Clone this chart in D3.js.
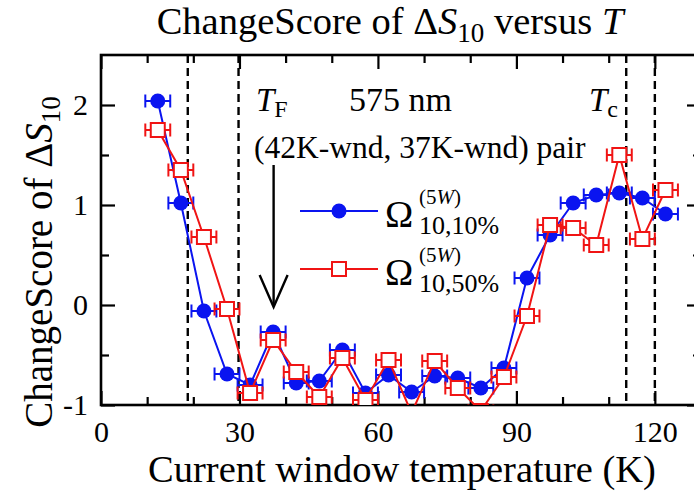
<!DOCTYPE html>
<html>
<head>
<meta charset="utf-8">
<script src="https://cdn.jsdelivr.net/npm/d3@7"></script>
<style>
  html, body { margin: 0; padding: 0; background: #fff; }
  svg { display: block; font-family: "Liberation Serif", "Times New Roman", serif; }
</style>
</head>
<body>
<svg id="chart" width="694" height="500"></svg>
<script>
// Window-centre temperatures (K)
const temps = [12.3, 17.3, 22.3, 27.3, 32.3, 37.3, 42.3, 47.3, 52.3, 57.3, 62.3, 67.3,
               72.3, 77.3, 82.3, 87.3, 92.3, 97.3, 102.3, 107.3, 112.3, 117.3, 122.3];
// ChangeScore of ΔS10, Ω(5W) 10,10%
const omega10 = [2.04, 1.02, -0.06, -0.69, -0.80, -0.27, -0.78, -0.76, -0.45, -0.88, -0.70, -0.87,
                 -0.71, -0.73, -0.83, -0.63, 0.27, 0.70, 1.02, 1.10, 1.12, 1.07, 0.91];
// ChangeScore of ΔS10, Ω(5W) 10,50%
const omega50 = [1.75, 1.35, 0.68, -0.04, -0.88, -0.35, -0.67, -0.92, -0.53, -0.95, -0.55, -1.08,
                 -0.56, -0.83, -1.06, -0.72, -0.11, 0.80, 0.77, 0.60, 1.50, 0.66, 1.15];
// half width of each temperature window (K)
const windowHalf = 2.7;
// reference temperatures marked with dashed lines (K)
const markerTemps = [18.8, 29.8, 113.8, 120];
const xMajorTicks = [0, 30, 60, 90, 120];
const xMinorTicks = [10, 20, 40, 50, 70, 80, 100, 110];
const yMajorTicks = [-1, 0, 1, 2];
const yMinorTicks = [-0.5, 0.5, 1.5];
const arrowTemp = 37.4;

const svg = d3.select("#chart");
const m = { left: 101, top: 55, right: 701, bottom: 405 };
const x = d3.scaleLinear().domain([0, 130]).range([m.left, m.right]);
const y = d3.scaleLinear().domain([-1, 2.5]).range([m.bottom, m.top]);

const BLUE = "#0a14f0", RED = "#f01414";

// title
const title = svg.append("text").attr("x", 390).attr("y", 34)
  .attr("text-anchor", "middle").attr("font-size", 38.5);
title.append("tspan").text("ChangeScore of Δ");
title.append("tspan").attr("font-style", "italic").text("S");
title.append("tspan").attr("font-size", 27).attr("dy", 8).text("10");
title.append("tspan").attr("dy", -8).text(" versus ");
title.append("tspan").attr("font-style", "italic").text("T");

// clip for data
svg.append("clipPath").attr("id", "plotclip").append("rect")
  .attr("x", m.left).attr("y", m.top).attr("width", m.right - m.left).attr("height", m.bottom - m.top);

// dashed reference lines
svg.append("g").selectAll("line").data(markerTemps).join("line")
  .attr("x1", d => x(d)).attr("x2", d => x(d))
  .attr("y1", m.top).attr("y2", m.bottom)
  .attr("stroke", "#000").attr("stroke-width", 2.4).attr("stroke-dasharray", "8,5");

// axes (ticks pointing inward)
function styleAxis(g) {
  g.select(".domain").remove();
  g.selectAll(".tick line").attr("stroke", "#000").attr("stroke-width", 2.2);
  g.selectAll(".tick text").attr("font-family", "Liberation Serif").attr("font-size", 30).attr("fill", "#000");
}
svg.append("g").attr("transform", `translate(0,${m.bottom})`)
  .call(d3.axisBottom(x).tickValues(xMajorTicks).tickSizeInner(-14).tickSizeOuter(0).tickPadding(16).tickFormat(d3.format("d")))
  .call(styleAxis);
svg.append("g").attr("transform", `translate(0,${m.bottom})`)
  .call(d3.axisBottom(x).tickValues(xMinorTicks).tickSizeInner(-8).tickSizeOuter(0).tickFormat(""))
  .call(styleAxis);
svg.append("g").attr("transform", `translate(0,${m.top})`)
  .call(d3.axisTop(x).tickValues(xMajorTicks).tickSizeInner(-14).tickSizeOuter(0).tickFormat(""))
  .call(styleAxis);
svg.append("g").attr("transform", `translate(0,${m.top})`)
  .call(d3.axisTop(x).tickValues(xMinorTicks).tickSizeInner(-8).tickSizeOuter(0).tickFormat(""))
  .call(styleAxis);
svg.append("g").attr("transform", `translate(${m.left},0)`)
  .call(d3.axisLeft(y).tickValues(yMajorTicks).tickSizeInner(-14).tickSizeOuter(0).tickPadding(13).tickFormat(d => d < 0 ? "-" + Math.abs(d) : d))
  .call(styleAxis);
svg.append("g").attr("transform", `translate(${m.left},0)`)
  .call(d3.axisLeft(y).tickValues(yMinorTicks).tickSizeInner(-8).tickSizeOuter(0).tickFormat(""))
  .call(styleAxis);
svg.append("g").attr("transform", `translate(${m.right},0)`)
  .call(d3.axisRight(y).tickValues(yMajorTicks).tickSizeInner(-14).tickSizeOuter(0).tickFormat(""))
  .call(styleAxis);
svg.append("g").attr("transform", `translate(${m.right},0)`)
  .call(d3.axisRight(y).tickValues(yMinorTicks).tickSizeInner(-8).tickSizeOuter(0).tickFormat(""))
  .call(styleAxis);

// frame
svg.append("rect").attr("x", m.left).attr("y", m.top)
  .attr("width", m.right - m.left).attr("height", m.bottom - m.top)
  .attr("fill", "none").attr("stroke", "#000").attr("stroke-width", 2.6);

// axis titles
svg.append("text").attr("x", 402).attr("y", 482).attr("text-anchor", "middle")
  .attr("font-size", 38.5).text("Current window temperature (K)");
const ylab = svg.append("text").attr("transform", "translate(52,262) rotate(-90)")
  .attr("text-anchor", "middle").attr("font-size", 39);
ylab.append("tspan").text("ChangeScore of Δ");
ylab.append("tspan").attr("font-style", "italic").text("S");
ylab.append("tspan").attr("font-size", 27).attr("dy", 8).text("10");

// data series
const plot = svg.append("g").attr("clip-path", "url(#plotclip)");
function drawSeries(values, color, shape) {
  const pts = temps.map((t, i) => ({ t, v: values[i] }));
  const g = plot.append("g");
  g.append("path").datum(pts)
    .attr("d", d3.line().x(d => x(d.t)).y(d => y(d.v)))
    .attr("fill", "none").attr("stroke", color).attr("stroke-width", 2);
  const eb = g.append("g").selectAll("g").data(pts).join("g");
  eb.append("line").attr("x1", d => x(d.t - windowHalf)).attr("x2", d => x(d.t + windowHalf))
    .attr("y1", d => y(d.v)).attr("y2", d => y(d.v)).attr("stroke", color).attr("stroke-width", 2);
  [-windowHalf, windowHalf].forEach(off => {
    eb.append("line").attr("x1", d => x(d.t + off)).attr("x2", d => x(d.t + off))
      .attr("y1", d => y(d.v) - 6.5).attr("y2", d => y(d.v) + 6.5)
      .attr("stroke", color).attr("stroke-width", 2);
  });
  if (shape === "circle") {
    g.append("g").selectAll("circle").data(pts).join("circle")
      .attr("cx", d => x(d.t)).attr("cy", d => y(d.v)).attr("r", 7.5).attr("fill", color);
  } else {
    g.append("g").selectAll("rect").data(pts).join("rect")
      .attr("x", d => x(d.t) - 7).attr("y", d => y(d.v) - 7)
      .attr("width", 14).attr("height", 14)
      .attr("fill", "#fff").attr("stroke", color).attr("stroke-width", 2);
  }
}
drawSeries(omega10, BLUE, "circle");
drawSeries(omega50, RED, "square");

// annotations
const tf = svg.append("text").attr("x", 256).attr("y", 111).attr("font-size", 33);
tf.append("tspan").attr("font-style", "italic").text("T");
tf.append("tspan").attr("font-size", 24).attr("dy", 6).text("F");
svg.append("text").attr("x", 349).attr("y", 111).attr("font-size", 34).text("575 nm");
const tc = svg.append("text").attr("x", 589).attr("y", 111).attr("font-size", 33);
tc.append("tspan").attr("font-style", "italic").text("T");
tc.append("tspan").attr("font-size", 24).attr("dy", 6).text("c");
svg.append("text").attr("x", 254).attr("y", 158).attr("font-size", 31.5).text("(42K-wnd, 37K-wnd) pair");

// arrow to the 37 K window
const ax = x(arrowTemp);
svg.append("line").attr("x1", ax).attr("x2", ax).attr("y1", 165).attr("y2", 306)
  .attr("stroke", "#000").attr("stroke-width", 2.4);
svg.append("path").attr("d", `M${ax - 14},${275} L${ax},${307} L${ax + 14},${275}`)
  .attr("fill", "none").attr("stroke", "#000").attr("stroke-width", 2.4);

// legend
const legendRows = [
  { color: BLUE, shape: "circle", sub: "10,10%", yy: 211 },
  { color: RED, shape: "square", sub: "10,50%", yy: 269 }
];
legendRows.forEach(r => {
  svg.append("line").attr("x1", 300).attr("x2", 378).attr("y1", r.yy).attr("y2", r.yy)
    .attr("stroke", r.color).attr("stroke-width", 2);
  if (r.shape === "circle") {
    svg.append("circle").attr("cx", 339).attr("cy", r.yy).attr("r", 7.5).attr("fill", r.color);
  } else {
    svg.append("rect").attr("x", 332).attr("y", r.yy - 7).attr("width", 14).attr("height", 14)
      .attr("fill", "#fff").attr("stroke", r.color).attr("stroke-width", 2);
  }
  svg.append("text").attr("x", 385).attr("y", r.yy + 16).attr("font-size", 38).text("Ω");
  const sup = svg.append("text").attr("x", 419).attr("y", r.yy - 7).attr("font-size", 21);
  sup.append("tspan").text("(5");
  sup.append("tspan").attr("font-style", "italic").text("W");
  sup.append("tspan").text(")");
  svg.append("text").attr("x", 419).attr("y", r.yy + 23).attr("font-size", 26).text(r.sub);
});
</script>
</body>
</html>
